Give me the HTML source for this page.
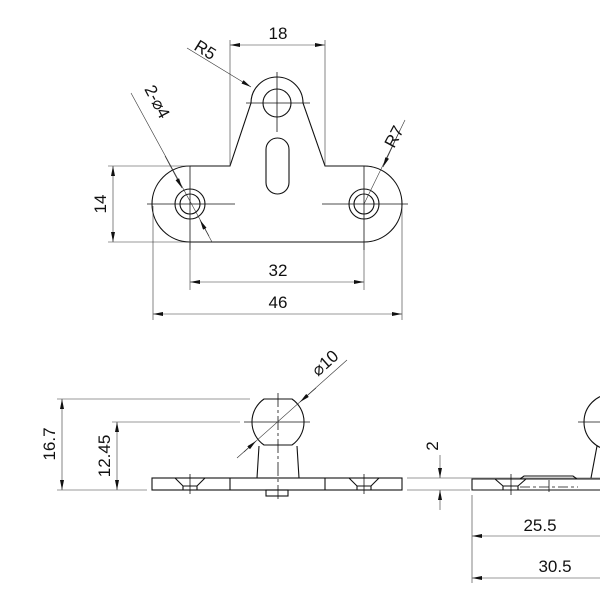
<!DOCTYPE html>
<html><head><meta charset="utf-8"><style>
html,body{margin:0;padding:0;background:#fff}
svg{display:block}
text{font-family:"Liberation Sans",sans-serif;font-size:17px;fill:#111}
</style></head><body>
<svg width="600" height="600" viewBox="0 0 600 600" xmlns="http://www.w3.org/2000/svg">
<defs>
<marker id="a" viewBox="0 0 10 4" refX="10" refY="2" markerWidth="10" markerHeight="4" orient="auto-start-reverse" markerUnits="userSpaceOnUse"><path d="M0,0 L10,2 L0,4 z" fill="#111"/></marker>
</defs>
<g fill="none" stroke="#111" stroke-width="1.1">
<path d="M190,166 L230,166 L251,103 A26,26 0 1 1 303,103 L325,166 L364,166 A38,38 0 0 1 364,242 L190,242 A38,38 0 0 1 190,166 Z"/>
<circle cx="277" cy="103" r="14"/>
<rect x="266" y="138" width="23" height="56" rx="11.5"/>
<circle cx="190" cy="204" r="15"/><circle cx="190" cy="204" r="10"/>
<circle cx="364" cy="204" r="15"/><circle cx="364" cy="204" r="10"/>
</g>
<g fill="none" stroke="#111" stroke-width="0.8">
<line x1="246" y1="103" x2="310" y2="103"/><line x1="277" y1="72" x2="277" y2="132"/>
<line x1="147" y1="204" x2="235" y2="204"/><line x1="190" y1="166" x2="190" y2="250"/>
<line x1="322" y1="204" x2="408" y2="204"/><line x1="364" y1="166" x2="364" y2="250"/>
</g>
<g fill="none" stroke="#333" stroke-width="0.6">
<line x1="230" y1="40" x2="230" y2="166"/><line x1="325" y1="40" x2="325" y2="166"/>
<line x1="230" y1="45" x2="325" y2="45" marker-start="url(#a)" marker-end="url(#a)"/>
<line x1="108" y1="166" x2="190" y2="166"/><line x1="108" y1="242" x2="190" y2="242"/>
<line x1="113" y1="166" x2="113" y2="242" marker-start="url(#a)" marker-end="url(#a)"/>
<line x1="190" y1="242" x2="190" y2="290"/><line x1="364" y1="242" x2="364" y2="290"/>
<line x1="190" y1="282" x2="364" y2="282" marker-start="url(#a)" marker-end="url(#a)"/>
<line x1="153" y1="206" x2="153" y2="320"/><line x1="402" y1="206" x2="402" y2="320"/>
<line x1="153" y1="314" x2="402" y2="314" marker-start="url(#a)" marker-end="url(#a)"/>
<line x1="187" y1="48" x2="251" y2="87" marker-end="url(#a)"/>
<line x1="131" y1="93" x2="209" y2="236"/>
<line x1="165" y1="156" x2="182" y2="188" marker-end="url(#a)"/>
<line x1="212" y1="242" x2="200" y2="220" marker-end="url(#a)"/>
<line x1="405" y1="120" x2="364" y2="204"/>
<line x1="400" y1="130" x2="383" y2="167" marker-end="url(#a)"/>
</g>
<text x="278" y="39" text-anchor="middle">18</text>
<text x="278" y="276" text-anchor="middle">32</text>
<text x="278" y="308" text-anchor="middle">46</text>
<text transform="translate(106,204) rotate(-90)" text-anchor="middle">14</text>
<text transform="translate(193,49) rotate(32)">R5</text>
<text transform="translate(144,89) rotate(62)">2-⌀4</text>
<text transform="translate(394,149) rotate(-62)">R7</text>

<g fill="none" stroke="#111" stroke-width="1.1">
<rect x="152" y="478" width="250" height="12"/>
<line x1="230" y1="478" x2="230" y2="490"/><line x1="325" y1="478" x2="325" y2="490"/>
<rect x="266" y="490" width="22" height="6"/>
<path d="M264,399 L292,399 A28,28 0 0 1 292,445 L264,445 A28,28 0 0 1 264,399 Z"/>
<path d="M259,446 L257,478 M297,446 L299,478"/>
<path d="M175,478 L183,486 L197,486 L205,478 M183,486 L183,490 M197,486 L197,490"/>
<path d="M349,478 L357,486 L371,486 L379,478 M357,486 L357,490 M371,486 L371,490"/>
</g>
<g fill="none" stroke="#111" stroke-width="0.8">
<line x1="278" y1="393" x2="278" y2="500" stroke-dasharray="14,3,3,3"/>
<line x1="244" y1="422" x2="310" y2="422"/>
<line x1="190" y1="474" x2="190" y2="494"/><line x1="364" y1="474" x2="364" y2="494"/>
</g>
<g fill="none" stroke="#333" stroke-width="0.6">
<line x1="57" y1="399" x2="250" y2="399"/><line x1="57" y1="490" x2="147" y2="490"/>
<line x1="62" y1="399" x2="62" y2="490" marker-start="url(#a)" marker-end="url(#a)"/>
<line x1="112" y1="422" x2="240" y2="422"/>
<line x1="117" y1="422" x2="117" y2="490" marker-start="url(#a)" marker-end="url(#a)"/>
<line x1="347" y1="360" x2="237" y2="458"/>
<line x1="316" y1="388" x2="300" y2="402" marker-end="url(#a)"/>
<line x1="244" y1="452" x2="256" y2="441" marker-end="url(#a)"/>
<line x1="407" y1="478" x2="600" y2="478"/><line x1="407" y1="490" x2="470" y2="490"/>
<line x1="440" y1="455" x2="440" y2="478" marker-end="url(#a)"/>
<line x1="440" y1="510" x2="440" y2="490" marker-end="url(#a)"/>
</g>
<text transform="translate(55,444) rotate(-90)" text-anchor="middle">16.7</text>
<text transform="translate(110,456) rotate(-90)" text-anchor="middle">12.45</text>
<text transform="translate(438,446) rotate(-90)" text-anchor="middle">2</text>
<text transform="translate(318,377) rotate(-42)">⌀10</text>

<g fill="none" stroke="#111" stroke-width="1.1">
<path d="M605,479 L472,479 L472,490 L605,490"/>
<circle cx="612" cy="422" r="28"/>
<path d="M597,446 L591,478"/>
<path d="M520,479 L524,476 L573,476 L577,479"/>
<path d="M495,479 L503,486 L518,486 L526,479 M503,486 L503,490 M518,486 L518,490"/>
</g>
<g fill="none" stroke="#111" stroke-width="0.8">
<line x1="578" y1="422" x2="600" y2="422"/>
<line x1="511" y1="474" x2="511" y2="495"/>
<line x1="520" y1="487" x2="578" y2="487" stroke-dasharray="10,3,3,3"/>
<line x1="549" y1="480" x2="549" y2="492"/>
</g>
<g fill="none" stroke="#333" stroke-width="0.6">
<line x1="472" y1="495" x2="472" y2="583"/>
<line x1="472" y1="536" x2="600" y2="536" marker-start="url(#a)"/>
<line x1="472" y1="578" x2="600" y2="578" marker-start="url(#a)"/>
</g>
<text x="540" y="531" text-anchor="middle">25.5</text>
<text x="555" y="572" text-anchor="middle">30.5</text>
</svg>
</body></html>
